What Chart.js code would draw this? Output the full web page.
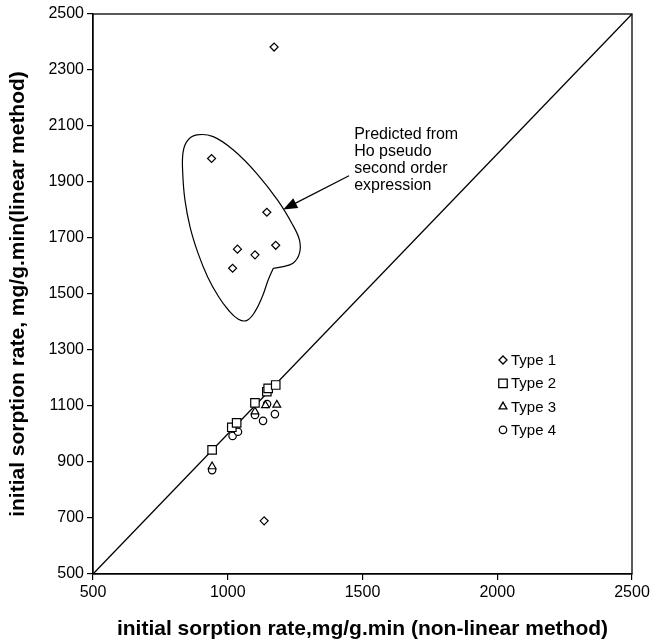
<!DOCTYPE html>
<html>
<head>
<meta charset="utf-8">
<script src="https://cdn.jsdelivr.net/npm/chart.js@4.4.1/dist/chart.umd.min.js"></script>
<style>
  html, body { margin: 0; padding: 0; background: #fff; }
</style>
</head>
<body>
<canvas id="sorptionChart" width="655" height="643"></canvas>
<script>
// values (mg/g.min)
const type1 = [
    { x: 1172, y: 2382 }, { x: 940, y: 1984 }, { x: 1145, y: 1792 }, { x: 1178, y: 1674 },
    { x: 1036, y: 1660 }, { x: 1101, y: 1640 }, { x: 1018, y: 1592 }, { x: 1135, y: 690 }
];
const type2 = [
    { x: 942, y: 943 }, { x: 1015, y: 1024 }, { x: 1033, y: 1040 }, { x: 1101, y: 1111 },
    { x: 1145, y: 1151 }, { x: 1150, y: 1163 }, { x: 1178, y: 1175 }
];
const type3 = [
    { x: 942, y: 884 }, { x: 1101, y: 1080 }, { x: 1140, y: 1102 }, { x: 1182, y: 1104 }
];
const type4 = [
    { x: 942, y: 871 }, { x: 1018, y: 993 }, { x: 1038, y: 1008 }, { x: 1101, y: 1068 },
    { x: 1131, y: 1047 }, { x: 1175, y: 1071 }, { x: 1146, y: 1107 }
];
const parityLine = [{ x: 500, y: 500 }, { x: 2500, y: 2500 }];

// hand-drawn outline round the Ho pseudo second order points
const groupOutline = [
    { x: 1169, y: 1592 }, { x: 1150, y: 1550 }, { x: 1128, y: 1490 }, { x: 1100, y: 1435 },
    { x: 1070, y: 1405 }, { x: 1038, y: 1411 }, { x: 1003, y: 1442 }, { x: 965, y: 1492 },
    { x: 925, y: 1562 }, { x: 890, y: 1645 }, { x: 860, y: 1740 }, { x: 841, y: 1837 },
    { x: 833, y: 1931 }, { x: 834, y: 2005 }, { x: 850, y: 2047 }, { x: 885, y: 2068 },
    { x: 946, y: 2062 }, { x: 1021, y: 2014 }, { x: 1107, y: 1931 }, { x: 1185, y: 1835 },
    { x: 1238, y: 1752 }, { x: 1266, y: 1693 }, { x: 1266, y: 1645 }, { x: 1242, y: 1610 },
    { x: 1200, y: 1597 }, { x: 1169, y: 1592 }
];
const arrowFrom = { x: 1450, y: 1922 };
const arrowTo = { x: 1206, y: 1802 };
const noteAt = { x: 1469, y: 2068 };
const noteLines = ['Predicted from', 'Ho pseudo', 'second order', 'expression'];

const xTicks = [500, 1000, 1500, 2000, 2500];
const yTicks = [500, 700, 900, 1100, 1300, 1500, 1700, 1900, 2100, 2300, 2500];
const legendNames = ['Type 1', 'Type 2', 'Type 3', 'Type 4'];

const FONT = "'Liberation Sans', Arial, sans-serif";

function markerSet(label, data, style, radius) {
    return {
        label: label,
        data: data,
        showLine: false,
        pointStyle: style,
        pointRadius: radius,
        pointHoverRadius: radius,
        pointBorderWidth: 1.2,
        borderColor: '#000',
        backgroundColor: '#fff'
    };
}

// frame, arrow, note and legend drawn on top
const decorations = {
    id: 'decorations',
    afterDatasetsDraw(chart) {
        const ctx = chart.ctx;
        const a = chart.chartArea;
        const xs = chart.scales.x, ys = chart.scales.y;
        ctx.save();
        ctx.strokeStyle = '#000';
        ctx.lineWidth = 1.3;
        ctx.strokeRect(a.left, a.top, a.right - a.left, a.bottom - a.top);

        // arrow
        const x1 = xs.getPixelForValue(arrowFrom.x), y1 = ys.getPixelForValue(arrowFrom.y);
        const x2 = xs.getPixelForValue(arrowTo.x), y2 = ys.getPixelForValue(arrowTo.y);
        const ang = Math.atan2(y2 - y1, x2 - x1);
        ctx.lineWidth = 1.2;
        ctx.beginPath();
        ctx.moveTo(x1, y1);
        ctx.lineTo(x2 - 10 * Math.cos(ang), y2 - 10 * Math.sin(ang));
        ctx.stroke();
        ctx.fillStyle = '#000';
        ctx.beginPath();
        ctx.moveTo(x2, y2);
        ctx.lineTo(x2 - 14 * Math.cos(ang) + 5.5 * Math.sin(ang), y2 - 14 * Math.sin(ang) - 5.5 * Math.cos(ang));
        ctx.lineTo(x2 - 14 * Math.cos(ang) - 5.5 * Math.sin(ang), y2 - 14 * Math.sin(ang) + 5.5 * Math.cos(ang));
        ctx.closePath();
        ctx.fill();

        // note
        ctx.font = '16px ' + FONT;
        ctx.textAlign = 'left';
        ctx.textBaseline = 'middle';
        const nx = xs.getPixelForValue(noteAt.x), ny = ys.getPixelForValue(noteAt.y);
        noteLines.forEach((t, i) => ctx.fillText(t, nx, ny + i * 17));

        // legend
        const lx = 503, ly = 360;
        ctx.font = '15px ' + FONT;
        chart.data.datasets.slice(0, 4).forEach((ds, i) => {
            const cy = ly + i * 23.3;
            ctx.lineWidth = 1.3;
            ctx.strokeStyle = '#000';
            ctx.fillStyle = '#fff';
            Chart.helpers.drawPoint(ctx, { pointStyle: ds.pointStyle, radius: ds.pointRadius, rotation: 0, borderWidth: 1.3 }, lx, cy);
            ctx.fillStyle = '#000';
            ctx.fillText(legendNames[i], lx + 8, cy + 1);
        });
        ctx.restore();
    }
};

new Chart(document.getElementById('sorptionChart'), {
    type: 'scatter',
    data: {
        datasets: [
            markerSet('Type 1', type1, 'rectRot', 4),
            markerSet('Type 2', type2, 'rect', 6),
            markerSet('Type 3', type3, 'triangle', 4.5),
            markerSet('Type 4', type4, 'circle', 3.7),
            {
                label: 'parity',
                data: parityLine,
                showLine: true,
                borderColor: '#000',
                borderWidth: 1.3,
                pointRadius: 0
            },
            {
                label: 'outline',
                data: groupOutline,
                showLine: true,
                borderColor: '#000',
                borderWidth: 1.2,
                tension: 0.4,
                pointRadius: 0
            }
        ]
    },
    options: {
        responsive: false,
        animation: false,
        layout: { padding: { top: 14, right: 23, left: 0, bottom: 0 } },
        plugins: {
            legend: { display: false },
            tooltip: { enabled: false }
        },
        scales: {
            x: {
                type: 'linear',
                min: 500,
                max: 2500,
                afterBuildTicks: s => { s.ticks = xTicks.map(v => ({ value: v })); },
                afterFit: s => { s.height = 69; },
                grid: { drawOnChartArea: false, drawTicks: true, tickLength: 6, color: '#000', lineWidth: 1.2 },
                border: { display: true, color: '#000', width: 1.3 },
                ticks: { color: '#000', padding: 3, callback: v => String(v), font: { family: FONT, size: 16 } },
                title: {
                    display: true,
                    text: 'initial sorption rate,mg/g.min (non-linear method)',
                    color: '#000',
                    padding: { top: 0, bottom: 1 },
                    font: { family: FONT, size: 21, weight: 'bold' }
                }
            },
            y: {
                type: 'linear',
                min: 500,
                max: 2500,
                afterBuildTicks: s => { s.ticks = yTicks.map(v => ({ value: v })); },
                afterFit: s => { s.width = 93; },
                grid: { drawOnChartArea: false, drawTicks: true, tickLength: 6, color: '#000', lineWidth: 1.2 },
                border: { display: true, color: '#000', width: 1.3 },
                ticks: { color: '#000', padding: 3, callback: v => String(v), font: { family: FONT, size: 16 } },
                title: {
                    display: true,
                    text: 'initial sorption rate, mg/g.min(linear method)',
                    color: '#000',
                    padding: { top: 6, bottom: 0 },
                    font: { family: FONT, size: 21, weight: 'bold' }
                }
            }
        }
    },
    plugins: [decorations]
});
</script>
</body>
</html>
